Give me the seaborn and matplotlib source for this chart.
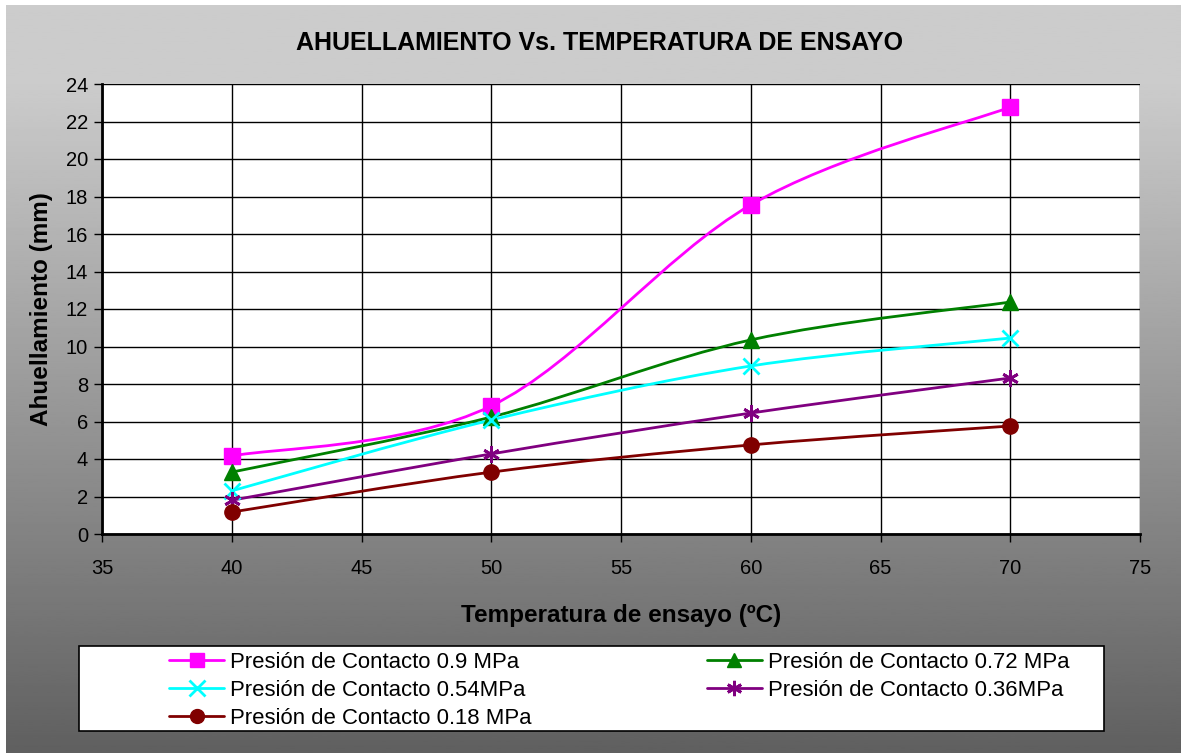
import numpy as np
import pandas as pd
import matplotlib
matplotlib.use("Agg")
import matplotlib.pyplot as plt
import seaborn as sns
from matplotlib.path import Path
from matplotlib.patches import PathPatch, Rectangle
from matplotlib.lines import Line2D

# datos
temperatura = [40, 50, 60, 70]
p_090 = [4.16, 6.83, 17.55, 22.77]
p_072 = [3.30, 6.24, 10.35, 12.37]
p_054 = [2.30, 6.08, 8.96, 10.45]
p_036 = [1.80, 4.27, 6.45, 8.32]
p_018 = [1.17, 3.30, 4.75, 5.76]

series = [
    ("Presión de Contacto 0.9 MPa", p_090, "#FF00FF", "s"),
    ("Presión de Contacto 0.72 MPa", p_072, "#008000", "^"),
    ("Presión de Contacto 0.54MPa", p_054, "#00FFFF", "x"),
    ("Presión de Contacto 0.36MPa", p_036, "#800080", (6, 2, 0)),
    ("Presión de Contacto 0.18 MPa", p_018, "#800000", "o"),
]

sns.set_style("white")
plt.rcParams["font.family"] = ["Liberation Sans", "DejaVu Sans"]
plt.rcParams["text.color"] = "black"
plt.rcParams["axes.labelcolor"] = "black"

W, H = 1181, 753
fig = plt.figure(figsize=(W / 100, H / 100), dpi=100)
fig.patch.set_facecolor("white")

# fondo degradado gris
bg = fig.add_axes([6 / W, 0, 1 - 6 / W, 1 - 5 / H], zorder=-10)
t = np.linspace(0, 1, 400)
g = np.where(t < 0.1, 0.80, 0.80 - (t - 0.1) / 0.9 * 0.425)
bg.imshow(g[:, None], cmap="gray", vmin=0, vmax=1, aspect="auto",
          extent=[0, 1, 0, 1], origin="upper")
bg.set_axis_off()

ax = fig.add_axes([102 / W, 1 - 534 / H, (1140 - 102) / W, (534 - 84) / H])
ax.set_facecolor("white")


def smooth_path(xs, ys):
    # curva suavizada tipo Excel (bezier cubica)
    pts = np.column_stack([xs, ys]).astype(float)
    ext = np.vstack([pts[0], pts, pts[-1]])
    verts = [pts[0]]
    codes = [Path.MOVETO]
    for i in range(len(pts) - 1):
        p0, p1, p2, p3 = ext[i], ext[i + 1], ext[i + 2], ext[i + 3]
        c1 = p1 + (p2 - p0) / 6.0
        c2 = p2 - (p3 - p1) / 6.0
        verts += [c1, c2, p2]
        codes += [Path.CURVE4] * 3
    return Path(verts, codes)


handles = []
for label, vals, color, mk in series:
    ax.add_patch(PathPatch(smooth_path(temperatura, vals), fill=False,
                           edgecolor=color, lw=2, zorder=3))
    filled = mk in ("s", "^", "o")
    df = pd.DataFrame({"T": temperatura, "A": vals})
    sns.lineplot(data=df, x="T", y="A", ax=ax, linestyle="none", marker=mk,
                 markersize=11 if filled else 12, color=color,
                 markeredgecolor=color, markeredgewidth=1 if filled else 2,
                 zorder=4)
    handles.append(Line2D([], [], color=color, lw=2, marker=mk,
                          markersize=10 if filled else 11,
                          markeredgecolor=color,
                          markeredgewidth=1 if filled else 2, label=label))

ax.set_xlim(35, 75)
ax.set_ylim(0, 24)
ax.set_xticks(range(35, 76, 5))
ax.set_yticks(range(0, 25, 2))
ax.grid(True, color="black", lw=1)
ax.set_axisbelow(True)
for s in ["top", "right"]:
    ax.spines[s].set_visible(False)
for s in ["left", "bottom"]:
    ax.spines[s].set_color("black")
    ax.spines[s].set_linewidth(2)
ax.tick_params(axis="both", direction="out", length=6, width=1, color="black",
               labelsize=14.5, labelcolor="black", pad=4, left=True, bottom=True)
ax.tick_params(axis="x", pad=12)

ax.set_xlabel("Temperatura de ensayo (ºC)", fontsize=17.5, fontweight="bold", labelpad=19)
ax.set_ylabel("Ahuellamiento (mm)", fontsize=17.5, fontweight="bold", labelpad=9)
fig.text(599 / W, 1 - 43 / H, "AHUELLAMIENTO Vs. TEMPERATURA DE ENSAYO",
         ha="center", va="center", fontsize=18, fontweight="bold")

# caja de la leyenda
fig.patches.append(Rectangle((79 / W, 1 - 731 / H), (1104 - 79) / W, (731 - 646) / H,
                             transform=fig.transFigure, facecolor="white",
                             edgecolor="black", lw=1.2, zorder=1))

order = [0, 2, 4, 1, 3]
leg = fig.legend([handles[i] for i in order], [handles[i].get_label() for i in order],
                 ncol=2, loc="upper left",
                 bbox_to_anchor=(158 / W, 1 - 641 / H),
                 fontsize=15.9, frameon=False, borderpad=0,
                 handlelength=2.5, handletextpad=0.27, labelspacing=0.32,
                 columnspacing=7.93)
leg.set_zorder(2)

fig.savefig("out.png", dpi=100)
